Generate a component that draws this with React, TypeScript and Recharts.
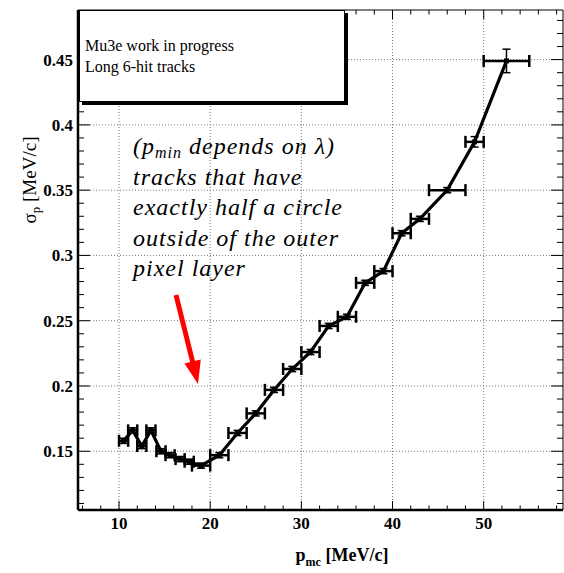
import React from 'react';
import { ScatterChart, Scatter, XAxis, YAxis, CartesianGrid, ErrorBar, ReferenceArea } from 'recharts';

// momentum bins (bin centre, half width) and resolution
const P_MC = [10.5, 11.5, 12.5, 13.5, 14.6, 15.6, 16.7, 17.7, 19, 21, 23, 25, 27, 29, 31, 33, 35, 37, 39, 41, 43, 46, 49, 52.5];
const P_ERR = [0.5, 0.5, 0.5, 0.5, 0.5, 0.5, 0.5, 0.5, 1, 1, 1, 1, 1, 1, 1, 1, 1, 1, 1, 1, 1, 2, 1, 2.5];
const SIGMA_P = [0.158, 0.166, 0.154, 0.166, 0.15, 0.147, 0.144, 0.142, 0.139, 0.147, 0.164, 0.179, 0.197, 0.213, 0.226, 0.246, 0.253, 0.279, 0.288, 0.317, 0.328, 0.35, 0.387, 0.449];
const SIGMA_ERR = [0.002, 0.002, 0.002, 0.002, 0.002, 0.002, 0.002, 0.002, 0.002, 0.002, 0.002, 0.002, 0.002, 0.002, 0.002, 0.002, 0.002, 0.002, 0.002, 0.002, 0.002, 0.002, 0.004, 0.009];

const X_MAJOR = [10, 20, 30, 40, 50];
const X_TICKS = [6, 8, 10, 12, 14, 16, 18, 20, 22, 24, 26, 28, 30, 32, 34, 36, 38, 40, 42, 44, 46, 48, 50, 52, 54, 56, 58];
const Y_MAJOR = [0.15, 0.2, 0.25, 0.3, 0.35, 0.4, 0.45];
const Y_TICKS = [0.11, 0.12, 0.13, 0.14, 0.15, 0.16, 0.17, 0.18, 0.19, 0.2, 0.21, 0.22, 0.23, 0.24, 0.25, 0.26, 0.27, 0.28, 0.29, 0.3, 0.31, 0.32, 0.33, 0.34, 0.35, 0.36, 0.37, 0.38, 0.39, 0.4, 0.41, 0.42, 0.43, 0.44, 0.45, 0.46, 0.47, 0.48];

const W = 564;
const H = 573;
const PLOT_TOP = 10;
const PLOT_RIGHT = 563;
const SERIF = "'Times New Roman', 'Liberation Serif', Times, 'DejaVu Serif', serif";

const data = P_MC.map((p, i) => ({ p, sigma: SIGMA_P[i], ex: P_ERR[i], ey: SIGMA_ERR[i] }));

const isMajor = (v: number, list: number[]) => list.some((m) => Math.abs(m - v) < 1e-6);

const XTick = (props: any) => {
    const { x, y, payload } = props;
    const major = isMajor(payload.value, X_MAJOR);
    const len = major ? 9 : 4.5;
    return (
        <g>
            <line x1={x} x2={x} y1={y} y2={y - len} stroke="#000" strokeWidth={1} />
            <line x1={x} x2={x} y1={PLOT_TOP} y2={PLOT_TOP + len} stroke="#000" strokeWidth={1} />
            {major && (
                <text x={x} y={y + 19} textAnchor="middle" style={{ fontFamily: SERIF }} fontWeight="bold" fontSize={17} fill="#000">
                    {payload.value}
                </text>
            )}
        </g>
    );
};

const YTick = (props: any) => {
    const { x, y, payload } = props;
    const major = isMajor(payload.value, Y_MAJOR);
    const len = major ? 12 : 6;
    return (
        <g>
            <line x1={x} x2={x + len} y1={y} y2={y} stroke="#000" strokeWidth={1} />
            <line x1={PLOT_RIGHT - len} x2={PLOT_RIGHT} y1={y} y2={y} stroke="#000" strokeWidth={1} />
            {major && (
                <text x={x - 5} y={y + 6} textAnchor="end" style={{ fontFamily: SERIF }} fontWeight="bold" fontSize={17} fill="#000">
                    {payload.value}
                </text>
            )}
        </g>
    );
};

const Marker = (props: any) => {
    const { cx, cy } = props;
    return <rect x={cx - 2.5} y={cy - 2.5} width={5} height={5} fill="#000" />;
};

export default function App() {
    return (
        <div style={{ position: 'absolute', left: 0, top: 0, width: W, height: H, background: '#fff', fontFamily: SERIF }}>
            <ScatterChart width={W} height={H} margin={{ top: PLOT_TOP, right: W - PLOT_RIGHT, left: 0, bottom: 0 }}>
                <CartesianGrid
                    stroke="#777"
                    strokeDasharray="1 2"
                    verticalValues={X_MAJOR}
                    horizontalValues={Y_MAJOR}
                />
                <ReferenceArea x1={5.5} x2={58.7} y1={0.105} y2={0.488} fill="none" stroke="#000" strokeWidth={1} ifOverflow="visible" />
                <XAxis
                    type="number"
                    dataKey="p"
                    domain={[5.5, 58.7]}
                    allowDataOverflow
                    ticks={X_TICKS}
                    interval={0}
                    height={63}
                    tickSize={0}
                    tickMargin={0}
                    tickLine={false}
                    tick={<XTick />}
                    axisLine={{ stroke: '#000', strokeWidth: 2.5 }}
                />
                <YAxis
                    type="number"
                    dataKey="sigma"
                    domain={[0.105, 0.488]}
                    allowDataOverflow
                    ticks={Y_TICKS}
                    interval={0}
                    width={78}
                    tickSize={0}
                    tickMargin={0}
                    tickLine={false}
                    tick={<YTick />}
                    axisLine={{ stroke: '#000', strokeWidth: 2.5 }}
                />
                <Scatter
                    data={data}
                    fill="#000"
                    line={{ stroke: '#000', strokeWidth: 3.2 }}
                    lineType="joint"
                    shape={<Marker />}
                    isAnimationActive={false}
                >
                    <ErrorBar dataKey="ex" direction="x" width={6} stroke="#000" strokeWidth={2.5} />
                    <ErrorBar dataKey="ey" direction="y" width={4} stroke="#000" strokeWidth={1.5} />
                </Scatter>
            </ScatterChart>

            {/* stats-style box */}
            <div
                style={{
                    position: 'absolute',
                    left: 79,
                    top: 10,
                    width: 266,
                    height: 92,
                    boxSizing: 'border-box',
                    border: '1px solid #000',
                    boxShadow: '3px 3px 0 #000',
                    background: '#fff',
                    fontFamily: SERIF,
                    fontSize: 16,
                    lineHeight: '21px',
                    paddingTop: 24,
                    paddingLeft: 5,
                    color: '#000',
                }}
            >
                <div>Mu3e work in progress</div>
                <div>Long 6-hit tracks</div>
            </div>

            {/* annotation */}
            <div
                style={{
                    position: 'absolute',
                    left: 133,
                    top: 131,
                    fontFamily: SERIF,
                    fontStyle: 'italic',
                    fontSize: 24,
                    letterSpacing: 1,
                    lineHeight: '30.5px',
                    color: '#000',
                    whiteSpace: 'nowrap',
                }}
            >
                <div>
                    (p<sub style={{ fontSize: 16, verticalAlign: -4, lineHeight: 0 }}>min</sub> depends on λ)
                </div>
                <div>tracks that have</div>
                <div>exactly half a circle</div>
                <div>outside of the outer</div>
                <div>pixel layer</div>
            </div>

            <svg width={W} height={H} style={{ position: 'absolute', left: 0, top: 0, pointerEvents: 'none' }}>
                <line x1={176} y1={295} x2={192.7} y2={362} stroke="#f00" strokeWidth={5} />
                <polygon points="198,384 184.5,363.5 200.8,359.6" fill="#f00" />
            </svg>

            {/* axis titles */}
            <div
                style={{
                    position: 'absolute',
                    left: 342,
                    top: 545,
                    transform: 'translateX(-50%)',
                    fontFamily: SERIF,
                    fontWeight: 'bold',
                    fontSize: 18,
                    whiteSpace: 'nowrap',
                    color: '#000',
                }}
            >
                p<sub style={{ fontSize: 12, verticalAlign: -5, lineHeight: 0 }}>mc</sub> [MeV/c]
            </div>
            <div
                style={{
                    position: 'absolute',
                    left: 30,
                    top: 180,
                    transform: 'translate(-50%, -50%) rotate(-90deg)',
                    fontFamily: SERIF,
                    fontSize: 19,
                    whiteSpace: 'nowrap',
                    color: '#000',
                }}
            >
                σ<sub style={{ fontSize: 13, verticalAlign: -4, lineHeight: 0 }}>p</sub> [MeV/c]
            </div>
        </div>
    );
}
